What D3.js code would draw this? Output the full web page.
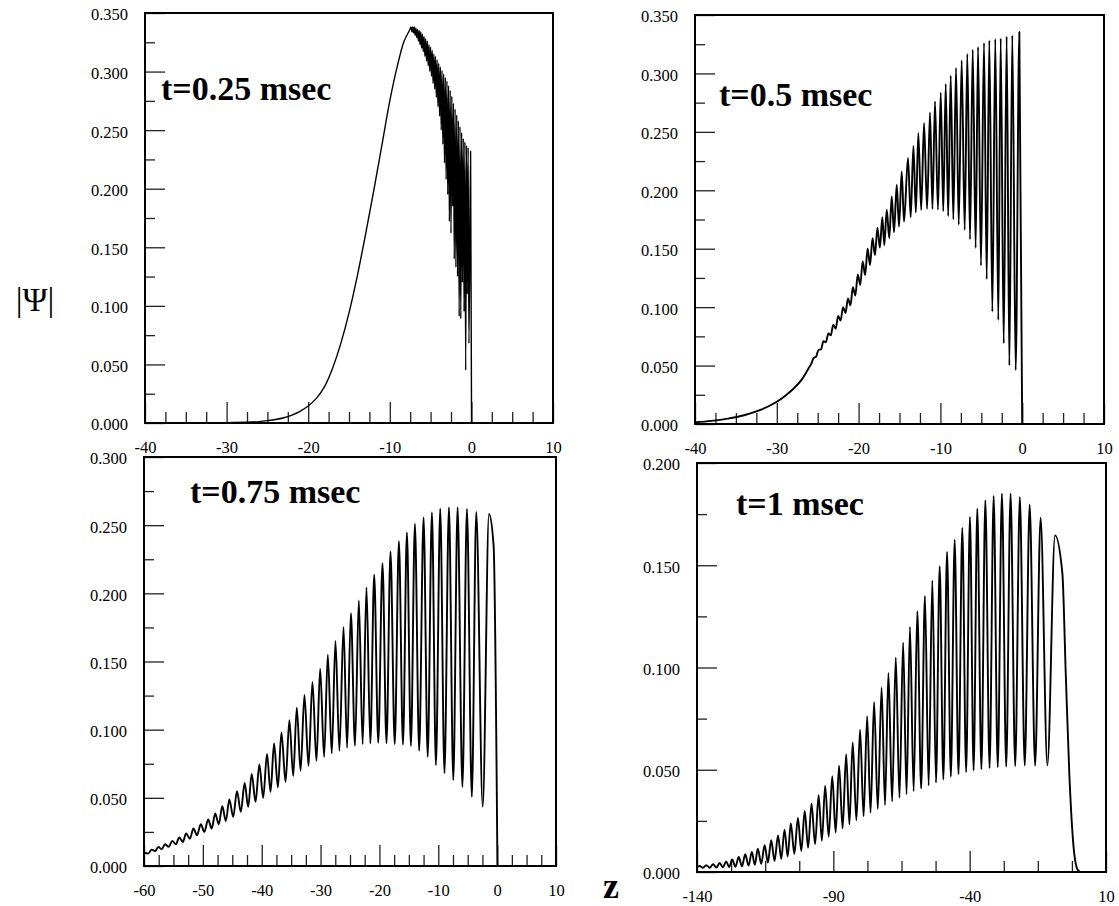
<!DOCTYPE html>
<html><head><meta charset="utf-8">
<script src="https://cdn.jsdelivr.net/npm/d3@7"></script>
<style>
html,body{margin:0;padding:0;background:#fff;}
svg{display:block;}
text{font-family:"Liberation Serif","Times New Roman",serif;fill:#000;}
</style></head><body>
<svg id="chart" width="1119" height="906"></svg>
<script>
// ---------- Data ----------
// Panel 1: t=0.25 msec
const p1Smooth = [[-40,0],[-30,0.0003],[-27,0.0008],[-26,0.0012],[-25,0.002],[-24,0.003],[-23,0.0045],[-22,0.0068],[-21,0.010],[-20,0.0145],[-19,0.021],[-18,0.031],[-17,0.047],[-16,0.068],[-15,0.094],[-14,0.125],[-13,0.160],[-12,0.197],[-11,0.236],[-10,0.275],[-9,0.307],[-8.3,0.325],[-7.6,0.335]];
const p1Peaks = [[-7.4,0.338],[-7.2,0.338],[-7.0,0.338],[-6.8,0.337],[-6.6,0.336],[-6.4,0.335],[-6.2,0.334],[-6.0,0.332],[-5.8,0.330],[-5.6,0.328],[-5.4,0.326],[-5.2,0.323],[-5.0,0.321],[-4.8,0.318],[-4.6,0.315],[-4.4,0.313],[-4.2,0.310],[-4.0,0.307],[-3.8,0.304],[-3.6,0.301],[-3.4,0.298],[-3.2,0.295],
  [-3.0,0.292],[-2.8,0.288],[-2.6,0.284],[-2.4,0.279],[-2.2,0.273],[-2.0,0.268],[-1.8,0.263],[-1.6,0.258],[-1.4,0.253],[-1.2,0.248],[-1.0,0.243],[-0.8,0.240],[-0.6,0.237],[-0.4,0.235],[-0.1,0.232]];
const p1Troughs = [[-7.3,0.334],[-7.1,0.333],[-6.9,0.331],[-6.7,0.329],[-6.5,0.326],[-6.3,0.323],[-6.1,0.320],[-5.9,0.317],[-5.7,0.313],[-5.5,0.309],[-5.3,0.305],[-5.1,0.300],[-4.9,0.296],[-4.7,0.290],[-4.5,0.285],[-4.3,0.278],[-4.1,0.270],[-3.9,0.262],[-3.7,0.250],[-3.5,0.238],[-3.3,0.222],[-3.1,0.208],
  [-2.9,0.195],[-2.7,0.172],[-2.5,0.162],[-2.3,0.185],[-2.1,0.140],[-1.9,0.133],[-1.7,0.125],[-1.5,0.091],[-1.3,0.089],[-1.1,0.120],[-0.9,0.095],[-0.7,0.045],[-0.5,0.110],[-0.3,0.068]];
const p1Tail = [[0.02,0]];

// Panel 2: t=0.5 msec
const p2Smooth = [[-40,0.0015],[-38,0.0027],[-36,0.0046],[-34,0.0075],[-32,0.0120],[-30,0.0190],[-29,0.0240],[-28,0.0300],[-27,0.0375],[-26.4,0.0440],[-26.1,0.0480]];
const p2Peaks = [[-25.5,0.0565],[-24.9,0.0635],[-24.3,0.0708],[-23.7,0.0775],[-23.1,0.0850],[-22.5,0.0925],[-21.9,0.1000],[-21.3,0.1075],[-20.7,0.1170],[-20.1,0.1280],[-19.5,0.1390],[-18.9,0.1500],[-18.3,0.1590],[-17.7,0.1680],[-17.1,0.1770],[-16.56,0.1834],[-15.95,0.1948],[-15.34,0.2048],[-14.73,0.2162],[-13.96,0.2276],[-13.3,0.238],[-12.7,0.249],[-12.0,0.2576],[-11.27,0.2667],[-10.66,0.276],[-9.96,0.2838],[-9.35,0.291],[-8.74,0.298],[-8.09,0.3046],[-7.4,0.311],[-6.71,0.3166],[-6.05,0.3203],[-5.4,0.3226],[-4.67,0.326],[-4.02,0.3283],[-3.29,0.3295],[-2.63,0.330],[-1.9,0.3317],[-1.21,0.3326],[-0.35,0.3355]];
const p2Troughs = [[-25.8,0.0512],[-25.2,0.0575],[-24.6,0.0638],[-24.0,0.0700],[-23.4,0.0758],[-22.8,0.0815],[-22.2,0.0885],[-21.6,0.0950],[-21.0,0.1015],[-20.4,0.1100],[-19.8,0.1190],[-19.2,0.1275],[-18.6,0.1360],[-18.0,0.1445],[-17.4,0.1510],[-16.86,0.153],[-16.25,0.159],[-15.67,0.164],[-15.06,0.169],[-14.45,0.173],[-13.63,0.177],[-13.0,0.181],[-12.35,0.183],[-11.63,0.184],[-10.97,0.184],[-10.3,0.1834],[-9.65,0.182],[-9.05,0.178],[-8.42,0.175],[-7.76,0.1705],[-7.03,0.166],[-6.38,0.158],[-5.69,0.1506],[-5.04,0.1355],[-4.34,0.124],[-3.65,0.096],[-2.92,0.089],[-2.26,0.069],[-1.57,0.050],[-0.8,0.046]];
const p2Tail = [[0.0,0]];

// Panel 3: t=0.75 msec
const p3Start = [[-60,0.0100]];
const p3Peaks = [[-58.7,0.0120],[-57.55,0.0140],[-56.4,0.0160],[-55.2,0.0184],[-54.0,0.0209],[-52.85,0.0238],[-51.6,0.0275],[-50.35,0.0306],[-49.1,0.0341],[-47.9,0.0385],[-46.7,0.0439],[-45.5,0.0488],[-44.2,0.0549],[-42.9,0.0610],[-41.7,0.0675],[-40.4,0.0745],[-39.1,0.0821],[-37.9,0.0899],[-36.65,0.0980],[-35.3,0.1070],[-34.04,0.1162],[-32.74,0.1254],[-31.38,0.1350],[-30.07,0.1447],[-28.77,0.1550],[-27.47,0.1651],[-26.1,0.1754],[-24.85,0.1854],[-23.5,0.1947],[-22.2,0.2043],[-20.89,0.2136],[-19.48,0.2221],[-18.12,0.2307],[-16.69,0.2383],[-15.33,0.2447],[-13.97,0.2510],[-12.5,0.2557],[-11.08,0.2594],[-9.67,0.2621],[-8.19,0.2631],[-6.72,0.2631],[-5.13,0.2619],[-3.55,0.2597],[-1.39,0.2582]];
const p3Troughs = [[-59.3,0.0091],[-58.1,0.0110],[-57.0,0.0123],[-55.8,0.0140],[-54.6,0.0160],[-53.4,0.0176],[-52.2,0.0200],[-51.0,0.0226],[-49.75,0.0250],[-48.5,0.0275],[-47.3,0.0306],[-46.1,0.0330],[-44.85,0.0360],[-43.55,0.0397],[-42.3,0.0434],[-41.05,0.0470],[-39.75,0.0500],[-38.5,0.0544],[-37.25,0.0576],[-35.95,0.0617],[-34.65,0.0660],[-33.4,0.0698],[-32.05,0.0735],[-30.7,0.0770],[-29.4,0.0800],[-28.1,0.0826],[-26.8,0.0845],[-25.5,0.0867],[-24.15,0.0882],[-22.85,0.0894],[-21.55,0.0899],[-20.2,0.0904],[-18.8,0.0900],[-17.4,0.0894],[-16.0,0.0890],[-14.65,0.0880],[-13.25,0.0845],[-11.8,0.0800],[-10.4,0.0740],[-8.95,0.0680],[-7.45,0.0630],[-5.9,0.0580],[-4.3,0.0507],[-2.45,0.0434]];
const p3Tail = [[-0.6,0.235],[0.05,0]];

// Panel 4: t=1 msec
const p4Start = [[-140,0.0025]];
const p4Peaks = [[-139.0,0.0029],[-136.6,0.0033],[-134.1,0.0038],[-131.7,0.0044],[-129.3,0.0052],[-127.1,0.0061],[-124.7,0.0073],[-122.3,0.0087],[-119.9,0.0098],[-117.7,0.0114],[-115.2,0.0131],[-112.8,0.0155],[-110.3,0.0179],[-107.9,0.0207],[-105.6,0.0237],[-103.0,0.0264],[-100.5,0.0298],[-98.0,0.0334],[-95.4,0.0375],[-93.0,0.0422],[-90.4,0.0468],[-87.9,0.0520],[-85.3,0.0576],[-82.9,0.0633],[-80.2,0.0696],[-77.6,0.0762],[-75.05,0.0831],[-72.3,0.0902],[-69.8,0.0973],[-67.1,0.1048],[-64.4,0.1122],[-61.9,0.1198],[-59.2,0.1275],[-56.4,0.1350],[-53.7,0.1426],[-51.0,0.1495],[-48.3,0.1565],[-45.5,0.1625],[-42.7,0.1682],[-39.9,0.1736],[-37.2,0.1777],[-34.25,0.1818],[-31.2,0.1839],[-28.17,0.1850],[-25.0,0.1850],[-21.6,0.1834],[-18.0,0.1797],[-13.99,0.1733],[-8.7,0.1646]];
const p4Troughs = [[-137.8,0.0021],[-135.35,0.0021],[-132.9,0.0022],[-130.5,0.0023],[-128.2,0.0024],[-125.9,0.0026],[-123.5,0.0028],[-121.1,0.0031],[-118.8,0.0035],[-116.45,0.0040],[-114.0,0.0046],[-111.55,0.0054],[-109.1,0.0064],[-106.75,0.0076],[-104.3,0.0089],[-101.75,0.0103],[-99.25,0.0119],[-96.7,0.0136],[-94.2,0.0153],[-91.7,0.0172],[-89.15,0.0193],[-86.6,0.0213],[-84.1,0.0233],[-81.55,0.0253],[-78.9,0.0272],[-76.35,0.0290],[-73.7,0.0308],[-71.05,0.0327],[-68.45,0.0345],[-65.75,0.0363],[-63.15,0.0380],[-60.55,0.0395],[-57.8,0.0408],[-55.05,0.0423],[-52.35,0.0437],[-49.65,0.0452],[-46.9,0.0466],[-44.1,0.0478],[-41.3,0.0488],[-38.55,0.0496],[-35.7,0.0502],[-32.7,0.0508],[-29.7,0.0512],[-26.6,0.0515],[-23.3,0.0518],[-19.8,0.0520],[-16.0,0.0520],[-11.5,0.0522]];
const p4Tail = [[-6.0,0.146],[-4.76,0.097],[-3.45,0.048],[-2.1,0.0155],[-0.6,0.0017],[0.5,0]];

// Titles and axis ticks
const titles = ["t=0.25 msec","t=0.5 msec","t=0.75 msec","t=1 msec"];
const yMajorA = [0,0.05,0.10,0.15,0.20,0.25,0.30,0.35];
const yMinorA = [0.025,0.075,0.125,0.175,0.225,0.275,0.325];
const yMajorC = [0,0.05,0.10,0.15,0.20,0.25,0.30];
const yMinorC = [0.025,0.075,0.125,0.175,0.225,0.275];
const yMajorD = [0,0.05,0.10,0.15,0.20];
const yMinorD = [0.025,0.075,0.125,0.175];
const xMajorA = [-40,-30,-20,-10,0,10];
const xMinorA = [-37.5,-35,-32.5,-27.5,-25,-22.5,-17.5,-15,-12.5,-7.5,-5,-2.5,2.5,5,7.5];
const xMajorC = [-60,-50,-40,-30,-20,-10,0,10];
const xMinorC = [-57.5,-55,-52.5,-47.5,-45,-42.5,-37.5,-35,-32.5,-27.5,-25,-22.5,-17.5,-15,-12.5,-7.5,-5,-2.5,2.5,5,7.5];
const xMajorD = [-140,-90,-40,10];
const xMinorD = [-127.5,-115,-102.5,-77.5,-65,-52.5,-27.5,-15,-2.5];

// ---------- Layout ----------
const panels = [
  {box:{l:145,r:553,t:13,b:423}, xd:[-40,10], yd:[0,0.35], xMaj:xMajorA, xMin:xMinorA, yMaj:yMajorA, yMin:yMinorA,
   data:[p1Smooth,p1Peaks,p1Troughs,p1Tail], title:titles[0], tx:161, ty:100, sw:1.4},
  {box:{l:695,r:1104,t:15,b:424}, xd:[-40,10], yd:[0,0.35], xMaj:xMajorA, xMin:xMinorA, yMaj:yMajorA, yMin:yMinorA,
   data:[p2Smooth,p2Peaks,p2Troughs,p2Tail], title:titles[1], tx:719, ty:106, sw:1.9},
  {box:{l:144,r:556,t:457,b:866}, xd:[-60,10], yd:[0,0.30], xMaj:xMajorC, xMin:xMinorC, yMaj:yMajorC, yMin:yMinorC,
   data:[p3Start,p3Peaks,p3Troughs,p3Tail], title:titles[2], tx:190, ty:503, sw:1.9},
  {box:{l:697,r:1106,t:463,b:872}, xd:[-140,10], yd:[0,0.20], xMaj:xMajorD, xMin:xMinorD, yMaj:yMajorD, yMin:yMinorD,
   data:[p4Start,p4Peaks,p4Troughs,p4Tail], title:titles[3], tx:736, ty:515, sw:1.9}
];

const svg = d3.select("#chart");
const fmtY = d3.format(".3f");
const fmtX = d => String(d);

panels.forEach((p,i) => {
  const {l,r,t,b} = p.box;
  const x = d3.scaleLinear().domain(p.xd).range([l,r]);
  const y = d3.scaleLinear().domain(p.yd).range([b,t]);
  const g = svg.append("g");

  const clipId = "clip"+i;
  g.append("clipPath").attr("id",clipId).append("rect")
    .attr("x",l).attr("y",t).attr("width",r-l).attr("height",b-t);

  const styleAxis = sel => {
    sel.select(".domain").remove();
    sel.attr("font-family",null).attr("font-size",null);
    sel.selectAll(".tick line").attr("stroke","#222").attr("stroke-width",1.3);
    sel.selectAll(".tick text").style("font-size","16.5px")
      .style("font-family",'"Liberation Serif","Times New Roman",serif').attr("fill","#000");
  };

  // Y axis (ticks inward)
  g.append("g").attr("transform",`translate(${l},0)`)
    .call(d3.axisLeft(y).tickValues(p.yMin).tickSize(-10).tickFormat(""))
    .call(styleAxis);
  g.append("g").attr("transform",`translate(${l},0)`)
    .call(d3.axisLeft(y).tickValues(p.yMaj).tickSize(-20).tickPadding(17).tickFormat(fmtY))
    .call(styleAxis)
    .selectAll(".tick text").attr("dy","0.42em");

  // X axis (ticks inward)
  g.append("g").attr("transform",`translate(0,${b})`)
    .call(d3.axisBottom(x).tickValues(p.xMin).tickSize(-11).tickFormat(""))
    .call(styleAxis);
  g.append("g").attr("transform",`translate(0,${b})`)
    .call(d3.axisBottom(x).tickValues(p.xMaj).tickSize(-21).tickPadding(18).tickFormat(fmtX))
    .call(styleAxis);

  // Curve
  const pts = [].concat(...p.data).sort((a,c) => a[0]-c[0]);
  const line = d3.line().x(d => x(d[0])).y(d => y(d[1])).curve(d3.curveMonotoneX);
  g.append("path").datum(pts)
    .attr("clip-path",`url(#${clipId})`)
    .attr("d",line).attr("fill","none").attr("stroke","#000")
    .attr("stroke-width",p.sw).attr("stroke-linejoin","round");

  // Frame
  g.append("rect").attr("x",l).attr("y",t).attr("width",r-l).attr("height",b-t)
    .attr("fill","none").attr("stroke","#000").attr("stroke-width",2);

  // Title
  g.append("text").attr("x",p.tx).attr("y",p.ty)
    .style("font-size","34px").style("font-weight","bold").text(p.title);
});

// Axis titles
svg.append("text").attr("x",35).attr("y",311).attr("text-anchor","middle")
  .style("font-size","34px").text("|Ψ|");
svg.append("text").attr("x",611).attr("y",898).attr("text-anchor","middle")
  .style("font-size","36px").style("font-weight","bold").text("z");
</script>
</body></html>
